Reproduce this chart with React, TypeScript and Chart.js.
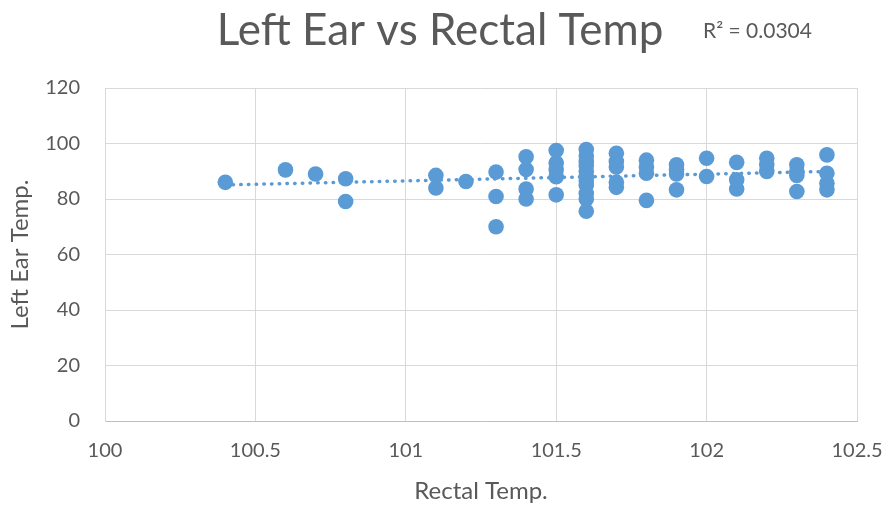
import React, { useEffect, useRef } from "react";
import { Chart, registerables } from "chart.js";

Chart.register(...registerables);

const rectalTemps: number[] = [
  100.4, 100.6, 100.7, 100.8, 100.8, 101.1, 101.1, 101.2,
  101.3, 101.3, 101.3,
  101.4, 101.4, 101.4, 101.4,
  101.5, 101.5, 101.5, 101.5, 101.5,
  101.6, 101.6, 101.6, 101.6, 101.6, 101.6, 101.6, 101.6, 101.6, 101.6, 101.6,
  101.7, 101.7, 101.7, 101.7, 101.7,
  101.8, 101.8, 101.8, 101.8,
  101.9, 101.9, 101.9, 101.9,
  102.0, 102.0,
  102.1, 102.1, 102.1,
  102.2, 102.2, 102.2,
  102.3, 102.3, 102.3, 102.3,
  102.4, 102.4, 102.4, 102.4,
];

const leftEarTemps: number[] = [
  86, 90.5, 89, 87.3, 79.1, 88.5, 84, 86.3,
  89.7, 80.9, 70,
  95.2, 90.6, 83.6, 80,
  97.5, 93, 90.5, 88, 81.5,
  97.8, 95.5, 93.5, 92, 90, 88, 86.5, 85, 82, 80, 75.6,
  96.5, 93.5, 91.5, 86, 84.2,
  94, 91.5, 89.3, 79.5,
  92.3, 90.5, 89, 83.3,
  94.7, 88.1,
  93.2, 86.9, 83.6,
  94.7, 92.3, 89.9,
  92.3, 90, 88.5, 82.7,
  95.9, 89.3, 85.7, 83.3,
];

const xTickValues: number[] = [100, 100.5, 101, 101.5, 102, 102.5];
const yTickValues: number[] = [0, 20, 40, 60, 80, 100, 120];

const chartTitle = "Left Ear vs Rectal Temp";
const rSquaredLabel = "R² = 0.0304";
const xAxisTitle = "Rectal Temp.";
const yAxisTitle = "Left Ear Temp.";

const BLUE = "#5b9bd5";
const TEXT = "#595959";
const GRID = "#d9d9d9";
const FONT = "Lato, 'Open Sans', sans-serif";

function regression(xs: number[], ys: number[]) {
  const n = xs.length;
  const mx = xs.reduce((a, b) => a + b, 0) / n;
  const my = ys.reduce((a, b) => a + b, 0) / n;
  let sxy = 0;
  let sxx = 0;
  for (let i = 0; i < n; i++) {
    sxy += (xs[i] - mx) * (ys[i] - my);
    sxx += (xs[i] - mx) * (xs[i] - mx);
  }
  const slope = sxy / sxx;
  return { slope, intercept: my - slope * mx };
}

export default function App() {
  const ref = useRef<HTMLCanvasElement | null>(null);

  useEffect(() => {
    if (!ref.current) return;
    const points = rectalTemps.map((x, i) => ({ x, y: leftEarTemps[i] }));
    const { slope, intercept } = regression(rectalTemps, leftEarTemps);
    const minX = Math.min(...rectalTemps);
    const maxX = Math.max(...rectalTemps);
    const trend = [
      { x: minX, y: slope * minX + intercept },
      { x: maxX, y: slope * maxX + intercept },
    ];

    const titlePlugin = {
      id: "titles",
      afterDraw(chart: any) {
        const ctx = chart.ctx;
        ctx.save();
        ctx.fillStyle = TEXT;
        ctx.textBaseline = "middle";
        ctx.textAlign = "center";
        ctx.font = `44px ${FONT}`;
        ctx.fillText(chartTitle, 440, 31);
        ctx.textAlign = "left";
        ctx.font = `21px ${FONT}`;
        ctx.fillText(rSquaredLabel, 703, 31);
        ctx.restore();
      },
    };

    const chart = new Chart(ref.current, {
      type: "scatter",
      data: {
        datasets: [
          {
            label: "trend",
            type: "line",
            data: trend,
            borderColor: BLUE,
            borderWidth: 3.5,
            borderDash: [0.5, 7.2],
            borderCapStyle: "round",
            pointRadius: 0,
            fill: false,
            order: 0,
          } as any,
          {
            label: "data",
            data: points,
            backgroundColor: BLUE,
            borderColor: BLUE,
            pointRadius: 7.8,
            pointHoverRadius: 7.8,
            borderWidth: 0,
            order: 1,
          },
        ],
      },
      options: {
        animation: false,
        responsive: false,
        maintainAspectRatio: false,
        layout: { padding: { top: 88, right: 33, left: 0, bottom: 0 } },
        plugins: {
          legend: { display: false },
          title: { display: false },
          tooltip: { enabled: false },
        },
        scales: {
          x: {
            type: "linear",
            min: 100,
            max: 102.5,
            afterBuildTicks(scale: any) {
              scale.ticks = xTickValues.map((v) => ({ value: v }));
            },
            afterFit(scale: any) {
              scale.height = 85;
              scale.paddingLeft = 0;
              scale.paddingRight = 0;
            },
            grid: { color: GRID, lineWidth: 1, drawTicks: false },
            border: { color: "#bfbfbf", width: 1 },
            ticks: {
              color: TEXT,
              font: { family: FONT, size: 20 },
              padding: 18,
              maxRotation: 0,
              autoSkip: false,
              callback: (v: any) => String(v),
            },
            title: {
              display: true,
              text: xAxisTitle,
              color: TEXT,
              font: { family: FONT, size: 24 },
              padding: { top: 0, bottom: 0 },
            },
          },
          y: {
            type: "linear",
            min: 0,
            max: 120,
            afterBuildTicks(scale: any) {
              scale.ticks = yTickValues.map((v) => ({ value: v }));
            },
            afterFit(scale: any) {
              scale.width = 105;
              scale.paddingTop = 0;
              scale.paddingBottom = 0;
            },
            grid: { color: GRID, lineWidth: 1, drawTicks: false },
            border: { color: GRID, width: 1 },
            ticks: {
              color: TEXT,
              font: { family: FONT, size: 20 },
              padding: 25,
              callback: (v: any) => String(v),
            },
            title: {
              display: true,
              text: yAxisTitle,
              color: TEXT,
              font: { family: FONT, size: 24 },
              padding: { top: 6, bottom: 0 },
            },
          },
        },
      },
      plugins: [titlePlugin],
    });
    return () => chart.destroy();
  }, []);

  return (
    <div style={{ position: "fixed", left: 0, top: 0, width: 890, height: 506, background: "#fff" }}>
      <canvas ref={ref} width={890} height={506} style={{ width: 890, height: 506 }} />
    </div>
  );
}
